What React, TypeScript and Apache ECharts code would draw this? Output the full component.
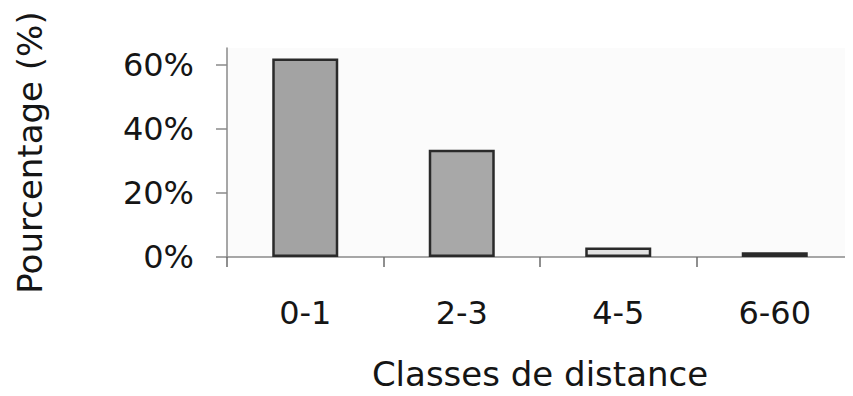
import React, { useEffect, useRef } from "react";
import * as echarts from "echarts";

const categories = ["0-1", "2-3", "4-5", "6-60"];
const percentages = [62, 33.5, 3, 1.5];
const yTickValues = [0, 20, 40, 60];
const yAxisTitle = "Pourcentage (%)";
const xAxisTitle = "Classes de distance";

const FONT = "'DejaVu Sans', 'Liberation Sans', Arial, sans-serif";

export default function App() {
  const ref = useRef<HTMLDivElement>(null);
  useEffect(() => {
    if (!ref.current) return;
    const chart = echarts.init(ref.current, null, { renderer: "svg" });
    const barColors = ["#a3a3a3", "#a8a8a8", "#e2e2e2", "#6a6a6a"];
    chart.setOption({
      animation: false,
      backgroundColor: "#ffffff",
      textStyle: { fontFamily: FONT },
      grid: {
        left: 227,
        top: 48,
        width: 633,
        height: 214,
        show: true,
        backgroundColor: "#fbfbfb",
        borderWidth: 0,
      },
      xAxis: {
        type: "category",
        data: categories,
        name: xAxisTitle,
        nameLocation: "middle",
        nameGap: 100,
        nameTextStyle: { fontSize: 34, color: "#151515", fontFamily: FONT },
        axisLine: { lineStyle: { color: "#8a8a8a", width: 1.5 } },
        axisTick: { show: true, length: 10, inside: false, lineStyle: { color: "#6a6a6a", width: 1.5 } },
        axisLabel: { fontSize: 32, color: "#151515", margin: 40, fontFamily: FONT },
      },
      yAxis: {
        type: "value",
        min: 0,
        max: 65.3,
        name: yAxisTitle,
        nameLocation: "middle",
        nameGap: 180,
        nameTextStyle: { fontSize: 34, color: "#151515", fontFamily: FONT },
        splitLine: { show: false },
        axisLine: { show: true, lineStyle: { color: "#8a8a8a", width: 1.5 } },
        axisTick: {
          show: true,
          length: 11,
          customValues: yTickValues,
          lineStyle: { color: "#8a8a8a", width: 1.5 },
        },
        axisLabel: {
          fontSize: 32,
          color: "#151515",
          margin: 33,
          fontFamily: FONT,
          customValues: yTickValues,
          formatter: (v: number) => `${Math.round(v)}%`,
        },
      },
      series: [
        {
          type: "bar",
          barWidth: 66,
          data: percentages.map((v, i) => ({
            value: v,
            itemStyle: { color: barColors[i], borderColor: "#2a2a2a", borderWidth: 2.5 },
          })),
        },
      ],
    });
    return () => chart.dispose();
  }, []);
  return <div ref={ref} style={{ width: 853, height: 396, margin: -8 }} />;
}
